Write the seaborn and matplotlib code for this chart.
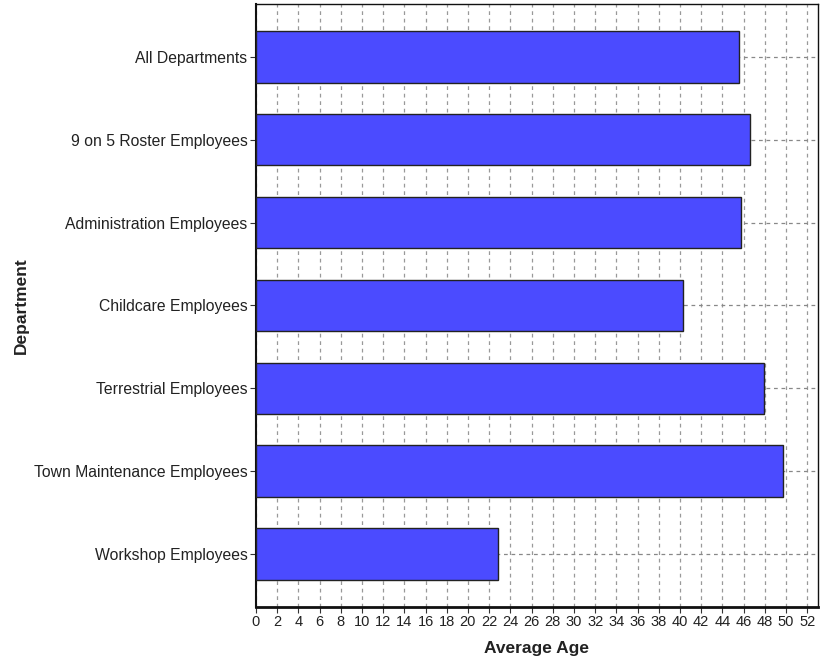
import pandas as pd
import numpy as np
import matplotlib
matplotlib.use('Agg')
import matplotlib.pyplot as plt
from matplotlib.ticker import MultipleLocator
import seaborn as sb

# data
departments = ['All Departments', '9 on 5 Roster Employees', 'Administration Employees',
               'Childcare Employees', 'Terrestrial Employees',
               'Town Maintenance Employees', 'Workshop Employees']
avg_age = [45.6, 46.6, 45.8, 40.25, 47.9, 49.75, 22.85]

df = pd.DataFrame({'Department': departments, 'Average Age': avg_age})

sb.set_style('white')
plt.rcParams['font.family'] = ['Liberation Sans', 'DejaVu Sans']

fig = plt.figure(figsize=(8.31, 6.6), dpi=100)
ax = fig.add_axes([0.308, 0.0803, 0.676, 0.9137])

sb.barplot(data=df, x='Average Age', y='Department', orient='h',
           color='#4B4BFF', saturation=1, width=0.62,
           edgecolor='#222222', linewidth=1, ax=ax, zorder=3)

ax.set_xlim(0, 53)
ax.set_ylim(6.64, -0.64)
ax.xaxis.set_major_locator(MultipleLocator(2))
ax.xaxis.set_minor_locator(MultipleLocator(1))
ax.set_axisbelow(True)
ax.grid(True, axis='x', which='major', linestyle=(0, (3, 3)), color='#999999', linewidth=0.9)
ax.grid(True, axis='y', linestyle=(0, (3, 3)), color='#888888', linewidth=0.9)

ax.tick_params(axis='x', which='major', direction='out', length=4, width=0.8,
               labelsize=10.5, pad=2, color='#333333', labelcolor='#222222')
ax.tick_params(axis='x', which='minor', direction='out', length=2.5, width=0.6, color='#333333')
ax.tick_params(axis='y', direction='out', length=4, width=0.8, labelsize=11.3, pad=2,
               color='#333333', labelcolor='#222222')
ax.tick_params(left=True, bottom=True)

for s in ax.spines.values():
    s.set_visible(True)
    s.set_color('#111111')
    s.set_linewidth(1.0)
ax.spines['bottom'].set_linewidth(2.0)
ax.spines['left'].set_linewidth(1.5)

ax.set_xlabel('Average Age', fontsize=12.5, fontweight='bold', color='#222222')
ax.set_ylabel('Department', fontsize=12.5, fontweight='bold', color='#222222')
ax.xaxis.set_label_coords(0.5, -0.056)
ax.yaxis.set_label_coords(-0.405, 0.5)

fig.savefig('out.png', dpi=100)
